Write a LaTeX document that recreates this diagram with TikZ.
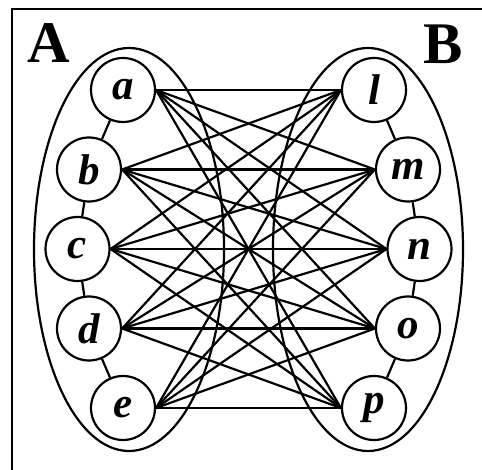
\documentclass[tikz,border=0pt]{standalone}
\usepackage{fontspec}
\setmainfont{Liberation Serif}
\begin{document}
\begin{tikzpicture}[
  x=1pt, y=-1pt, line width=2.2pt,
  vertex/.style = {shape=circle, draw, minimum size=64pt, inner sep=0pt,
    font=\fontsize{43}{43}\selectfont\bfseries\itshape},
  setname/.style = {font=\fontsize{59}{59}\selectfont\bfseries}
  ]
  \useasboundingbox (0,0) rectangle (482,470);
  % frame, cut off on the right and at the bottom
  \draw (12,471) -- (12,9) -- (483,9);
  % the two sets
  \draw (129,249.5) ellipse [x radius=95, y radius=201.5];
  \draw (368,249.5) ellipse [x radius=95, y radius=201.5];
  \node[setname] (labelA) at (49,43) {A};
  \node[setname] (labelB) at (443,44) {B};
  % left column
  \node[vertex] (a) at (123,90)    {a};
  \node[vertex] (b) at (89,169.5)  {b};
  \node[vertex] (c) at (77.5,249)  {c};
  \node[vertex] (d) at (89,328.5)  {d};
  \node[vertex] (e) at (123,408)   {e};
  % right column
  \node[vertex] (l) at (374,90)    {l};
  \node[vertex] (m) at (408,169.5) {m};
  \node[vertex] (n) at (419.5,249) {n};
  \node[vertex] (o) at (408,328.5) {o};
  \node[vertex] (p) at (374,408)   {p};
  % neighbours inside a set
  \draw (a) -- (b) -- (c) -- (d) -- (e);
  \draw (l) -- (m) -- (n) -- (o) -- (p);
  % every left node to every right node
  \foreach \u in {a,b,c,d,e}
    \foreach \v in {l,m,n,o,p}
      \draw (\u.east) -- (\v.west);
\end{tikzpicture}
\end{document}
